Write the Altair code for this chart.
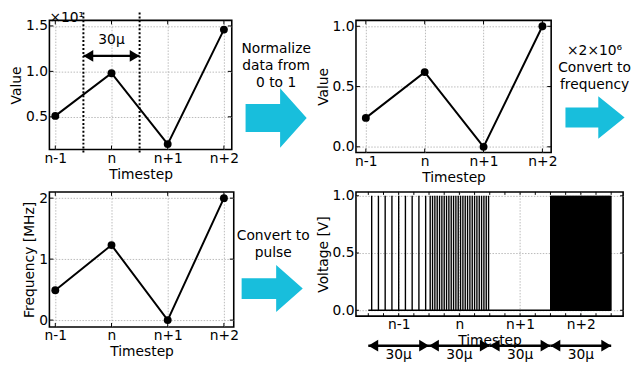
import altair as alt
import pandas as pd

# ---------------- data ----------------
steps = ["n-1", "n", "n+1", "n+2"]
raw_values = [5.1, 9.8, 2.0, 14.6]          # shown on a x10^1 axis
norm_values = [0.24, 0.62, 0.0, 1.0]
freq_mhz = [0.49, 1.23, 0.0, 2.0]
pulse_counts = [9, 26, 0, 60]               # pulses inside each 30 us window
window_us = 30
p1_yticks = [0.5, 1.0, 1.5]
p2_yticks = [0.0, 0.5, 1.0]
p3_yticks = [0, 1, 2]
p4_yticks = [0.0, 0.5, 1.0]

FONT = "DejaVu Sans"
CYAN = "#18bedc"
LABEL_EXPR = "['n-1','n','n+1','n+2'][round(datum.value)]"

ARROW_RIGHT_HEAD = "M0,0 L-1,-0.6 L-1,0.6 Z"
ARROW_LEFT_HEAD = "M0,0 L1,-0.6 L1,0.6 Z"


def one_row():
    return pd.DataFrame({"k": [0]})


def xenc(dom, axis):
    return alt.X("x:Q", scale=alt.Scale(domain=dom, nice=False, zero=False), axis=axis)


def yenc(dom, axis):
    return alt.Y("y:Q", scale=alt.Scale(domain=dom, nice=False, zero=False), axis=axis)


def inward_ticks(xvals, yvals, w, h, X, Y, L=4):
    dfx = pd.DataFrame({"x": xvals})
    dfy = pd.DataFrame({"y": yvals})
    rule = dict(color="black", strokeWidth=1)
    return [
        alt.Chart(dfx).mark_rule(**rule).encode(x=X, y=alt.value(h), y2=alt.value(h - L)),
        alt.Chart(dfx).mark_rule(**rule).encode(x=X, y=alt.value(0), y2=alt.value(L)),
        alt.Chart(dfy).mark_rule(**rule).encode(y=Y, x=alt.value(0), x2=alt.value(L)),
        alt.Chart(dfy).mark_rule(**rule).encode(y=Y, x=alt.value(w), x2=alt.value(w - L)),
    ]


def text_at(txt, x, y, align="center", baseline="middle"):
    return alt.Chart(one_row()).mark_text(
        align=align, baseline=baseline, font=FONT, fontSize=14, color="black",
        lineBreak="\n", lineHeight=17.5
    ).encode(x=alt.value(x), y=alt.value(y), text=alt.value(txt))


def block_arrow(cx, cy, width, shaft_half, head_half, head_base):
    path = (f"M-1,-{shaft_half} L{head_base},-{shaft_half} L{head_base},-{head_half} "
            f"L1,0 L{head_base},{head_half} L{head_base},{shaft_half} L-1,{shaft_half} Z")
    return alt.Chart(one_row()).mark_point(
        shape=path, size=width * width, filled=True, color=CYAN, opacity=1, strokeWidth=0
    ).encode(x=alt.value(cx), y=alt.value(cy))


def line_panel(values, w, h, xdom, ydom, yticks, yfmt, ytitle, extra):
    df = pd.DataFrame({"x": list(range(len(steps))), "y": values})
    xa = alt.Axis(values=list(range(len(steps))), labelExpr=LABEL_EXPR, title="Timestep")
    ya = alt.Axis(values=yticks, format=yfmt, title=ytitle)
    X = xenc(xdom, xa)
    Y = yenc(ydom, ya)
    base = alt.Chart(df).encode(x=X, y=Y)
    layers = [
        base.mark_line(color="black", strokeWidth=2),
        base.mark_circle(color="black", size=64, opacity=1),
    ]
    layers += inward_ticks(list(range(len(steps))), yticks, w, h, X, Y)
    layers += extra(X, Y)
    return alt.layer(*layers).properties(width=w, height=h)


# ---------------- panel 1 ----------------
W1, H1 = 185, 131


def extra1(X, Y):
    dots = pd.DataFrame({"x": [0.5, 1.5]})
    span = pd.DataFrame({"x": [0.5], "x2": [1.5]})
    left = pd.DataFrame({"x": [0.5]})
    right = pd.DataFrame({"x": [1.5]})
    mid = pd.DataFrame({"x": [1.0]})
    return [
        alt.Chart(dots).mark_rule(color="black", strokeWidth=2, strokeDash=[2, 2]).encode(
            x=X, y=alt.value(-8), y2=alt.value(134)),
        alt.Chart(span).mark_rule(color="black", strokeWidth=2.5).encode(
            x=X, x2="x2:Q", y=alt.value(36)),
        alt.Chart(left).mark_point(shape=ARROW_LEFT_HEAD, size=400, filled=True, color="black",
                                   opacity=1, strokeWidth=0).encode(x=X, y=alt.value(36)),
        alt.Chart(right).mark_point(shape=ARROW_RIGHT_HEAD, size=400, filled=True, color="black",
                                    opacity=1, strokeWidth=0).encode(x=X, y=alt.value(36)),
        alt.Chart(mid).mark_text(font=FONT, fontSize=14, color="black", baseline="middle").encode(
            x=X, y=alt.value(19.5), text=alt.value("30μ")),
        text_at("×10¹", 0, 2, align="left", baseline="alphabetic"),
        text_at("Normalize\ndata from\n0 to 1", 230, 29),
        block_arrow(230, 99, 62, 0.46, 0.97, 0.13),
    ]


p1 = line_panel([v / 10 for v in raw_values], W1, H1, [-0.105, 3.14], [0.14, 1.561],
                p1_yticks, ".1f", "Value", extra1)

# ---------------- panel 2 ----------------
W2, H2 = 198, 134


def extra2(X, Y):
    return [
        text_at("×2×10⁶\nConvert to\nfrequency", 242, 31),
        block_arrow(242.5, 98.5, 60, 0.34, 0.72, 0.11),
    ]


p2 = line_panel(norm_values, W2, H2, [-0.1675, 3.149], [-0.047, 1.049], p2_yticks, ".1f", "Value", extra2)

# ---------------- panel 3 ----------------
W3, H3 = 187, 137


def extra3(X, Y):
    return [
        text_at("Convert to\npulse", 227, 45),
        block_arrow(226, 98, 62, 0.34, 0.77, 0.13),
    ]


p3 = line_panel(freq_mhz, W3, H3, [-0.105, 3.175], [-0.113, 2.102], p3_yticks, "d", "Frequency [MHz]", extra3)

# ---------------- panel 4 (pulse train) ----------------
W4, H4 = 271, 126
centers = [window_us * i + window_us / 2 for i in range(len(steps))]
pulse_t = []
for i, c in enumerate(pulse_counts):
    for k in range(c):
        pulse_t.append(window_us * i + (k + 0.5) * window_us / c)
pulses = pd.DataFrame({"x": pulse_t, "y": [0.0] * len(pulse_t), "y2": [1.0] * len(pulse_t)})
total = window_us * len(steps)

xa4 = alt.Axis(values=centers, labelExpr="['n-1','n','n+1','n+2'][round((datum.value-15)/30)]",
               title="Timestep")
ya4 = alt.Axis(values=p4_yticks, format=".1f", title="Voltage [V]")
X4 = xenc([-6.09, 125.9], xa4)
Y4 = yenc([-0.051, 1.0336], ya4)

baseline = pd.DataFrame({"x": [0.0], "x2": [float(total)], "y": [0.0]})
minor_x = [7.5 * j for j in range(int(total / 7.5) + 1)]
win_lo = pd.DataFrame({"x": [window_us * i for i in range(len(steps))]})
win_hi = pd.DataFrame({"x": [window_us * (i + 1) for i in range(len(steps))]})
win_span = pd.DataFrame({"x": [window_us * i for i in range(len(steps))],
                         "x2": [window_us * (i + 1) for i in range(len(steps))]})
win_mid = pd.DataFrame({"x": centers})

dense = pulses[pulses["x"] >= 3 * window_us]
sparse = pulses[pulses["x"] < 3 * window_us]
layers4 = [
    alt.Chart(sparse).mark_rule(color="black", strokeWidth=1.4).encode(x=X4, y=Y4, y2="y2:Q"),
    alt.Chart(dense).mark_rule(color="black", strokeWidth=2).encode(x=X4, y=Y4, y2="y2:Q"),
    alt.Chart(baseline).mark_rule(color="black", strokeWidth=1.5).encode(x=X4, x2="x2:Q", y=Y4),
]
layers4 += inward_ticks(minor_x, p4_yticks, W4, H4, X4, Y4, L=3)
layers4 += [
    alt.Chart(win_span).mark_rule(color="black", strokeWidth=2.5).encode(
        x=X4, x2="x2:Q", y=alt.value(156)),
    alt.Chart(win_lo).mark_point(shape=ARROW_LEFT_HEAD, size=400, filled=True, color="black",
                                 opacity=1, strokeWidth=0).encode(x=X4, y=alt.value(156)),
    alt.Chart(win_hi).mark_point(shape=ARROW_RIGHT_HEAD, size=400, filled=True, color="black",
                                 opacity=1, strokeWidth=0).encode(x=X4, y=alt.value(156)),
    alt.Chart(win_mid).mark_text(font=FONT, fontSize=14, color="black", baseline="middle").encode(
        x=X4, y=alt.value(165), text=alt.value("30μ")),
]
p4 = alt.layer(*layers4).properties(width=W4, height=H4)

chart = alt.concat(p1, p2, p3, p4, columns=2, spacing={"row": 40, "column": 124},
                   bounds="flush").properties(
    padding=0, background="white"
).configure_axis(
    labelFont=FONT, titleFont=FONT, labelFontSize=14, titleFontSize=14,
    titleFontWeight="normal", labelColor="black", titleColor="black",
    domain=False, ticks=False, grid=True, gridColor="#a8a8a8", gridDash=[1.5, 1.5],
    gridWidth=0.8, labelPadding=2, titlePadding=2, labelFlush=False, labelOverlap=False,
).configure_view(stroke="black", strokeWidth=1.6)

chart.save("out.html", embed_options={"renderer": "svg", "actions": False})
